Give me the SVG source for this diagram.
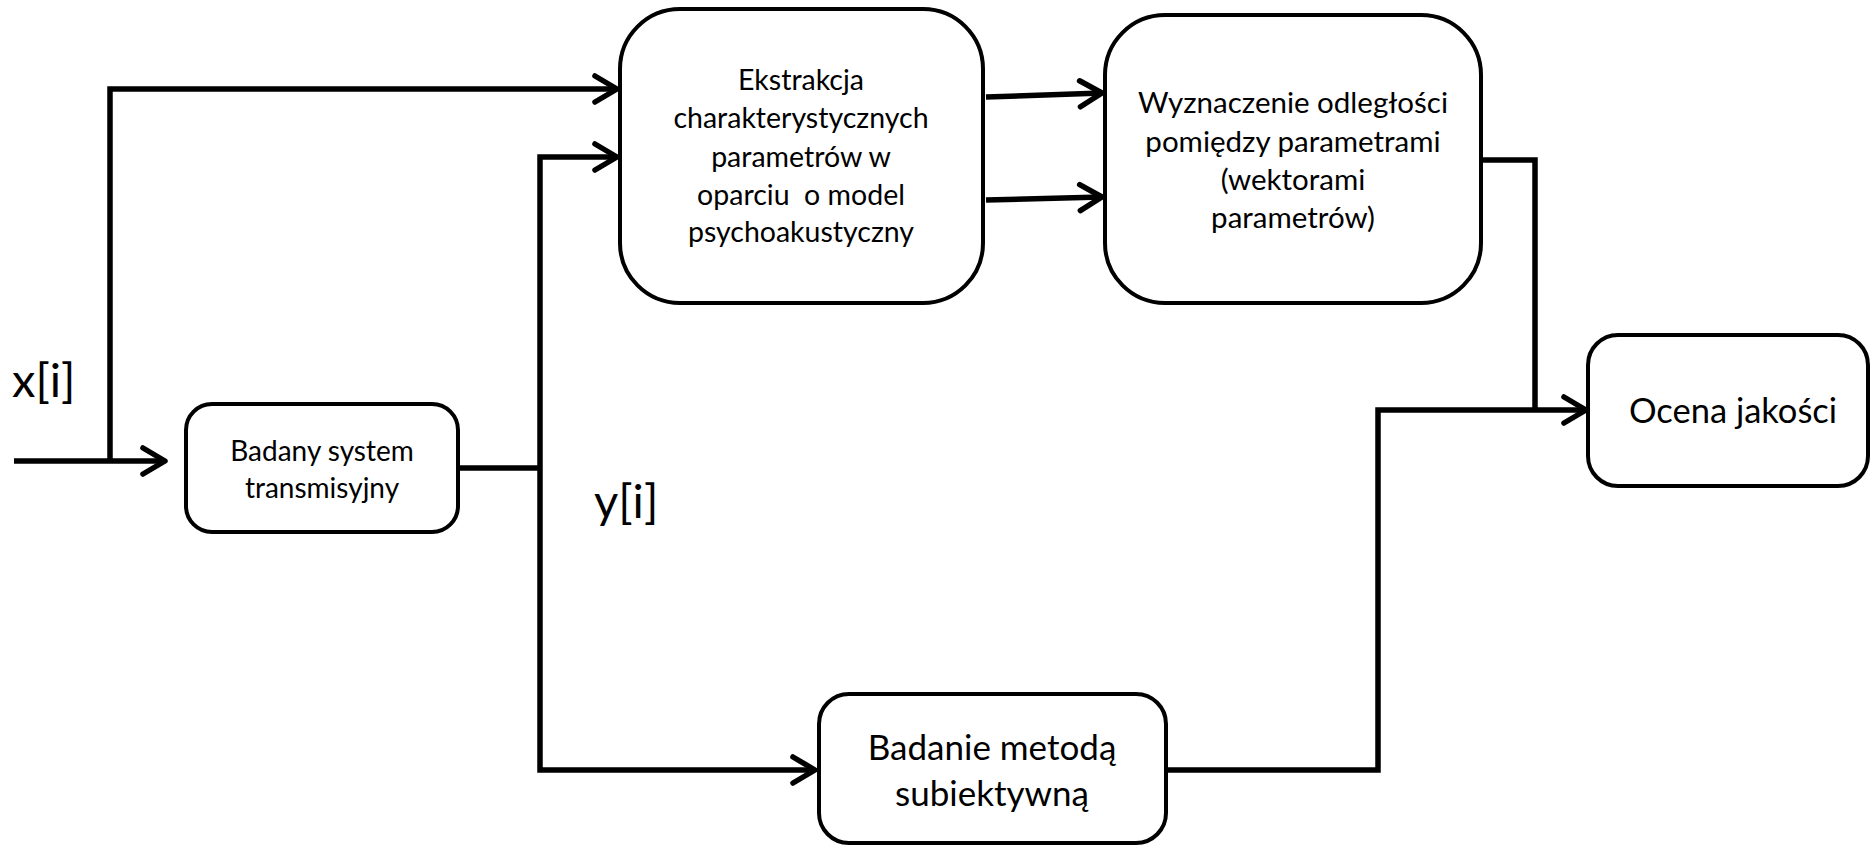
<svg xmlns="http://www.w3.org/2000/svg" width="1871" height="845" viewBox="0 0 1871 845">
  <style>
    .box { fill: #ffffff; stroke: #000000; stroke-width: 4; }
    .wire { fill: none; stroke: #000000; stroke-width: 5.5; stroke-linejoin: miter; }
    .lbl { font-family: Lato, "Open Sans", "Liberation Sans", sans-serif; fill: #000000; text-anchor: middle; }
    .sig { font-family: Lato, "Open Sans", "Liberation Sans", sans-serif; fill: #000000; font-size: 47px; }
  </style>
  <defs>
    <marker id="chevron" markerUnits="userSpaceOnUse" markerWidth="40" markerHeight="40" viewBox="-30 -20 40 40" refX="0" refY="0" orient="auto" overflow="visible">
      <path d="M -22 -13 L 0 0 L -22 13" fill="none" stroke="#000000" stroke-width="5.5" stroke-linecap="round" stroke-linejoin="round"/>
    </marker>
  </defs>

  <rect width="1871" height="845" fill="#ffffff"/>

  <!-- connectors -->
  <g id="connectors">
    <path class="wire" d="M14 461 H165" marker-end="url(#chevron)"/>
    <path class="wire" d="M110 461 V89 H617" marker-end="url(#chevron)"/>
    <path class="wire" d="M458 468 H540"/>
    <path class="wire" d="M540 468 V157 H617" marker-end="url(#chevron)"/>
    <path class="wire" d="M540 468 V770 H815" marker-end="url(#chevron)"/>
    <path class="wire" d="M986 97 L1102 93" marker-end="url(#chevron)"/>
    <path class="wire" d="M986 200 L1102 197" marker-end="url(#chevron)"/>
    <path class="wire" d="M1481 160 H1535 V410"/>
    <path class="wire" d="M1166 770 H1378 V410 H1586" marker-end="url(#chevron)"/>
  </g>

  <!-- signal labels -->
  <text class="sig" x="12" y="397">x[i]</text>
  <text class="sig" x="594" y="518">y[i]</text>

  <g id="badany-system">
    <rect class="box" x="186" y="404" width="272" height="128" rx="26"/>
    <text class="lbl" font-size="28" x="322" y="461">Badany system</text>
    <text class="lbl" font-size="28" x="322" y="498">transmisyjny</text>
  </g>

  <g id="ekstrakcja">
    <rect class="box" x="620" y="9" width="363" height="294" rx="60"/>
    <text class="lbl" font-size="28.5" x="801" y="90">Ekstrakcja</text>
    <text class="lbl" font-size="28.5" x="801" y="128">charakterystycznych</text>
    <text class="lbl" font-size="28.5" x="801" y="167">parametrów w</text>
    <text class="lbl" font-size="28.5" x="801" y="205" xml:space="preserve">oparciu  o model</text>
    <text class="lbl" font-size="28.5" x="801" y="242">psychoakustyczny</text>
  </g>

  <g id="wyznaczenie">
    <rect class="box" x="1105" y="15" width="376" height="288" rx="60"/>
    <text class="lbl" font-size="29.5" x="1293" y="113">Wyznaczenie odległości</text>
    <text class="lbl" font-size="29.5" x="1293" y="152">pomiędzy parametrami</text>
    <text class="lbl" font-size="29.5" x="1293" y="190">(wektorami</text>
    <text class="lbl" font-size="29.5" x="1293" y="228">parametrów)</text>
  </g>

  <g id="ocena">
    <rect class="box" x="1588" y="335" width="280" height="151" rx="30"/>
    <text class="lbl" font-size="34.5" x="1733" y="423">Ocena jakości</text>
  </g>

  <g id="badanie-subiektywne">
    <rect class="box" x="819" y="694" width="347" height="149" rx="30"/>
    <text class="lbl" font-size="35" x="992" y="760">Badanie metodą</text>
    <text class="lbl" font-size="35" x="992" y="806">subiektywną</text>
  </g>
</svg>
